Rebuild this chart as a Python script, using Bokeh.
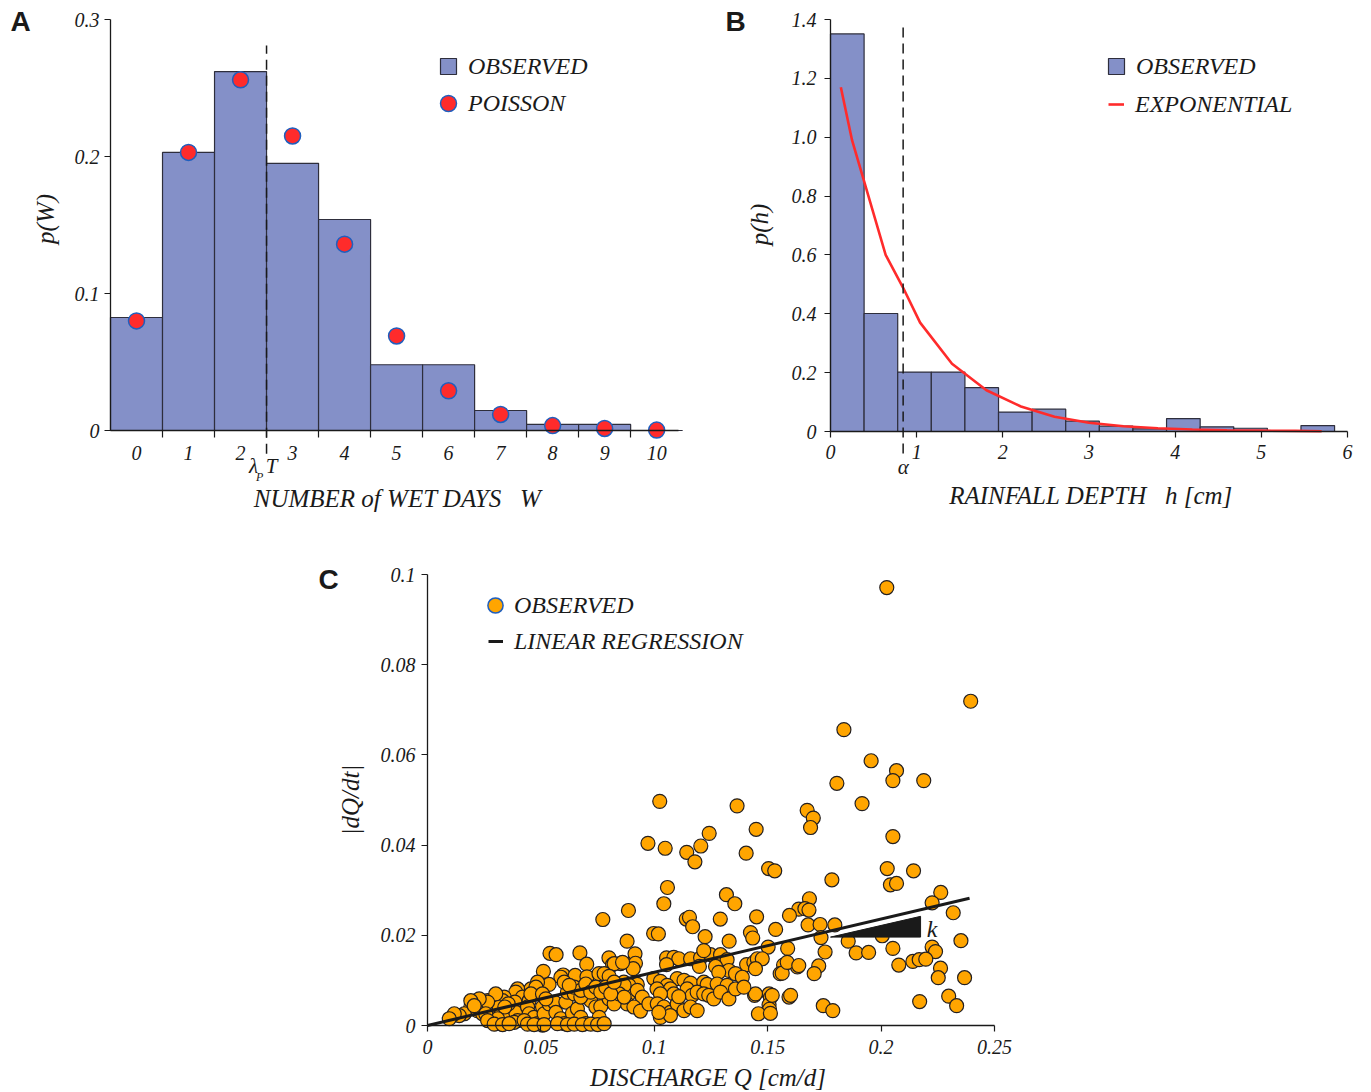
import math
from bokeh.plotting import figure
from bokeh.models import (Range1d, FixedTicker, CustomJSTickFormatter, Label,
                          Legend, LegendItem, Spacer)
from bokeh.layouts import column, row
from bokeh.embed import file_html
from bokeh.resources import INLINE

NAN = float("nan")

# ---------------- data ----------------
# Panel A : number of wet days
wet_days = list(range(11))
obs_wet = [0.0825, 0.203, 0.262, 0.195, 0.154, 0.048, 0.048, 0.0146, 0.0044, 0.0044, 0.0]
poisson_wet = [0.080, 0.203, 0.256, 0.215, 0.136, 0.069, 0.029, 0.0117, 0.0036, 0.0015, 0.0003]
lambda_T = 2.5

# Panel B : rainfall depth
depth_edges = [0.0, 0.39, 0.78, 1.17, 1.56, 1.95, 2.34, 2.73, 3.12, 3.51, 3.90, 4.29, 4.68, 5.07, 5.46, 5.85]
obs_depth = [1.351, 0.401, 0.202, 0.202, 0.149, 0.066, 0.076, 0.035, 0.018, 0.009, 0.044, 0.016, 0.011, 0.0, 0.020]
exp_h = [0.12, 0.25, 0.37, 0.64, 0.84, 1.04, 1.41, 1.81, 2.21, 2.60, 3.00, 3.40, 3.80, 4.20, 4.60, 5.00, 5.40, 5.70]
exp_p = [1.17, 0.99, 0.87, 0.60, 0.49, 0.37, 0.23, 0.14, 0.085, 0.05, 0.03, 0.018, 0.011, 0.007, 0.004, 0.003, 0.002, 0.001]
alpha_h = 0.843

# Panel C : recession
discharge = [
    0.2025, 0.2395, 0.1836, 0.1956, 0.2068, 0.2052, 0.2188, 0.1805, 0.1916, 0.1024,
    0.1365, 0.1674, 0.1701, 0.1689, 0.1449, 0.2052, 0.1242, 0.0972, 0.1048, 0.1205,
    0.1143, 0.1405, 0.1179, 0.1504, 0.1531, 0.2027, 0.2143, 0.1783, 0.2041, 0.2068,
    0.1058, 0.1318, 0.1355, 0.1042, 0.1684, 0.2263, 0.0886, 0.2225, 0.2318, 0.1637,
    0.1664, 0.1682, 0.1451, 0.1596, 0.0773, 0.1291, 0.1141, 0.1155, 0.1169, 0.1535,
    0.1678, 0.1731, 0.1796, 0.0997, 0.1018, 0.1224, 0.1424, 0.1434, 0.0880, 0.1330,
    0.1735, 0.1855, 0.2352, 0.2005, 0.1588, 0.1753, 0.1890, 0.1945, 0.2052, 0.2225,
    0.2240, 0.1502, 0.2140, 0.2168, 0.2197, 0.2078, 0.1725, 0.1631, 0.1570, 0.2262,
    0.2252, 0.2368, 0.1705, 0.1555, 0.1594, 0.1506, 0.1512, 0.1506, 0.1508, 0.1459,
    0.1442, 0.1745, 0.1787, 0.2170, 0.2298, 0.2333, 0.0540, 0.0567, 0.0672, 0.0702,
    0.0511, 0.0598, 0.0651, 0.0703, 0.0756, 0.0800, 0.0816, 0.0908, 0.0915,
    0.1054, 0.1086, 0.1108, 0.1160, 0.1204, 0.1248, 0.1292, 0.1218, 0.1321, 0.1199,
    0.1270, 0.1054, 0.0917, 0.0907, 0.0851, 0.1407, 0.1439, 0.1454, 0.1476, 0.1446,
    0.1564, 0.1586, 0.1637, 0.1329, 0.1358, 0.1388, 0.1284, 0.0866, 0.0925, 0.0888,
    0.0998, 0.1027, 0.1101, 0.1131, 0.1160, 0.1218, 0.1233, 0.1057, 0.1071, 0.1086,
    0.1012, 0.1027, 0.1277, 0.1321, 0.1145, 0.1167, 0.1189, 0.1218, 0.1240, 0.1262,
    0.1292, 0.1329, 0.1446, 0.1520, 0.1512, 0.1601, 0.1358, 0.1395, 0.0851, 0.0888,
    0.0925, 0.0947, 0.0880, 0.0910, 0.0939, 0.0976, 0.1013, 0.1042, 0.1071, 0.1101,
    0.1131, 0.1160, 0.1189, 0.1027, 0.1071, 0.1020, 0.1108,
    0.0823, 0.0860, 0.0588, 0.0779, 0.0801, 0.0867, 0.0456, 0.0536, 0.0485, 0.0478,
    0.0397, 0.0389, 0.0419, 0.0448, 0.0338, 0.0331, 0.0287, 0.0265, 0.0316, 0.0385,
    0.0191, 0.0220, 0.0243, 0.0162, 0.0140, 0.0118, 0.0096, 0.0272, 0.0287, 0.0301,
    0.0323, 0.0353, 0.0389, 0.0397, 0.0382, 0.0441, 0.0448, 0.0470, 0.0485, 0.0507,
    0.0507, 0.0514, 0.0536, 0.0559, 0.0566, 0.0588, 0.0603, 0.0610, 0.0639, 0.0661,
    0.0676, 0.0698, 0.0720, 0.0742, 0.0764, 0.0757, 0.0801, 0.0823, 0.0845, 0.0867,
    0.0617, 0.0647, 0.0676, 0.0647, 0.0676, 0.0698, 0.0720, 0.0742, 0.0764, 0.0786,
    0.0808, 0.0823, 0.0603, 0.0625, 0.0456, 0.0507, 0.0522, 0.0356, 0.0341, 0.0301,
    0.0265, 0.0228, 0.0191, 0.0206, 0.0309, 0.0257,
    0.0265, 0.0294, 0.0331, 0.0360, 0.0426, 0.0441, 0.0470, 0.0514, 0.0573, 0.0617,
    0.0647, 0.0683, 0.0720, 0.0750, 0.0779,
]
recession = [
    0.0971, 0.0719, 0.0656, 0.0587, 0.0565, 0.0543, 0.0543, 0.0537, 0.0492, 0.0497,
    0.0487, 0.0477, 0.0460, 0.0439, 0.0435, 0.0419, 0.0426, 0.0404, 0.0393, 0.0398,
    0.0384, 0.0382, 0.0363, 0.0348, 0.0343, 0.0348, 0.0343, 0.0323, 0.0312, 0.0315,
    0.0306, 0.0290, 0.0270, 0.0270, 0.0281, 0.0295, 0.0255, 0.0272, 0.0250, 0.0258,
    0.0259, 0.0256, 0.0241, 0.0244, 0.0235, 0.0236, 0.0236, 0.0240, 0.0219, 0.0213,
    0.0223, 0.0224, 0.0223, 0.0204, 0.0203, 0.0197, 0.0206, 0.0194, 0.0187, 0.0187,
    0.0195, 0.0187, 0.0188, 0.0199, 0.0171, 0.0163, 0.0161, 0.0162, 0.0171, 0.0174,
    0.0164, 0.0174, 0.0142, 0.0146, 0.0147, 0.0134, 0.0132, 0.0130, 0.0134, 0.0127,
    0.0106, 0.0106, 0.0115, 0.0115, 0.0063, 0.0070, 0.0062, 0.0046, 0.0036, 0.0026,
    0.0067, 0.0044, 0.0033, 0.0053, 0.0065, 0.0044, 0.0160, 0.0157, 0.0161, 0.0136,
    0.0120, 0.0112, 0.0111, 0.0108, 0.0115, 0.0150, 0.0135, 0.0141, 0.0159,
    0.0150, 0.0151, 0.0148, 0.0148, 0.0150, 0.0157, 0.0157, 0.0166, 0.0146, 0.0131,
    0.0131, 0.0135, 0.0138, 0.0126, 0.0137, 0.0135, 0.0140, 0.0148, 0.0148, 0.0126,
    0.0116, 0.0140, 0.0133, 0.0122, 0.0115, 0.0107, 0.0118, 0.0096, 0.0091, 0.0089,
    0.0104, 0.0098, 0.0104, 0.0100, 0.0094, 0.0096, 0.0091, 0.0089, 0.0081, 0.0070,
    0.0081, 0.0070, 0.0092, 0.0089, 0.0081, 0.0067, 0.0074, 0.0070, 0.0067, 0.0059,
    0.0074, 0.0059, 0.0070, 0.0067, 0.0027, 0.0067, 0.0081, 0.0085, 0.0070, 0.0070,
    0.0078, 0.0063, 0.0048, 0.0041, 0.0032, 0.0048, 0.0048, 0.0041, 0.0029, 0.0048,
    0.0033, 0.0041, 0.0033, 0.0018, 0.0022, 0.0029, 0.0064,
    0.0137, 0.0140, 0.0107, 0.0115, 0.0109, 0.0089, 0.0081, 0.0091, 0.0096, 0.0085,
    0.0081, 0.0074, 0.0063, 0.0055, 0.0063, 0.0055, 0.0055, 0.0055, 0.0041, 0.0052,
    0.0041, 0.0033, 0.0026, 0.0026, 0.0022, 0.0026, 0.0015, 0.0022, 0.0015, 0.0004,
    0.0004, 0.0018, 0.0029, 0.0011, 0.0007, 0.0041, 0.0026, 0.0018, 0.0004, 0.0001,
    0.0041, 0.0026, 0.0048, 0.0052, 0.0029, 0.0015, 0.0004, 0.0052, 0.0027, 0.0037,
    0.0018, 0.0004, 0.0055, 0.0041, 0.0042, 0.0018, 0.0059, 0.0048, 0.0070, 0.0063,
    0.0074, 0.0070, 0.0063, 0.0085, 0.0078, 0.0092, 0.0074, 0.0085, 0.0074, 0.0085,
    0.0070, 0.0096, 0.0096, 0.0089, 0.0070, 0.0070, 0.0059, 0.0048, 0.0041, 0.0070,
    0.0052, 0.0059, 0.0055, 0.0044, 0.0015, 0.0026,
    0.0011, 0.0003, 0.0002, 0.0004, 0.0011, 0.0003, 0.0002, 0.0002, 0.0004, 0.0002,
    0.0003, 0.0002, 0.0003, 0.0002, 0.0004,
]
reg_q = [0.0, 0.239]
reg_dq = [0.0, 0.0282]
k_q = [0.1777, 0.2174, 0.2174]
k_dq = [0.0196, 0.0196, 0.0242]

# ---------------- style ----------------
SERIF = "Liberation Serif"
SANS = "Liberation Sans"
INK = "#1a1a1a"
BAR_FILL = "#8490c8"
BAR_LINE = "#2e2e3c"
RED = "#ff2b2b"
BLUE = "#1f5fbf"
ORANGE = "#ffa500"
GAP = "\u00a0\u00a0 "


def xr(W, a, pa, b, pb):
    s = (pb - pa) / (b - a)
    return Range1d(a - pa / s, a + (W - pa) / s)


def yr(H, a, pa, b, pb):
    s = (pa - pb) / (b - a)
    return Range1d(a - (H - pa) / s, b + pb / s)


def make_fig(W, H, xrange, yrange, x_axis_at, y_axis_at, xbounds, ybounds):
    p = figure(width=W, height=H, x_range=xrange, y_range=yrange,
               toolbar_location=None, output_backend="svg", min_border=0)
    p.outline_line_color = None
    p.xgrid.visible = False
    p.ygrid.visible = False
    p.background_fill_color = "white"
    p.border_fill_color = "white"
    p.xaxis.fixed_location = x_axis_at
    p.yaxis.fixed_location = y_axis_at
    p.xaxis.bounds = xbounds
    p.yaxis.bounds = ybounds
    for ax in (p.xaxis[0], p.yaxis[0]):
        ax.axis_line_color = INK
        ax.axis_line_width = 1.3
        ax.major_tick_line_color = INK
        ax.major_tick_line_width = 1.2
        ax.major_tick_in = 0
        ax.major_tick_out = 6
        ax.minor_tick_line_color = None
        ax.major_label_text_font = SERIF
        ax.major_label_text_font_style = "italic"
        ax.major_label_text_font_size = "20px"
        ax.major_label_text_color = INK
        ax.major_label_standoff = 5
    return p


def fmt():
    return CustomJSTickFormatter(
        code="return tick == 0 ? '0' : String(parseFloat(tick.toFixed(3)));")


def text(p, x, y, s, dx=0, dy=0, size="25px", font=SERIF, style="italic", angle=0.0,
         align="center", baseline="middle"):
    p.add_layout(Label(x=x, y=y, x_offset=dx, y_offset=dy, text=s, text_font=font,
                       text_font_style=style, text_font_size=size, text_color=INK,
                       text_align=align, text_baseline=baseline, angle=angle))


def legend(p, renderer, label, vx, vy, gw, gh, standoff):
    lg = Legend(items=[LegendItem(label=label, renderers=[renderer])], location=(vx, vy),
                border_line_color=None, background_fill_alpha=0, padding=0, margin=0,
                spacing=0, glyph_width=gw, glyph_height=gh, label_height=gh,
                label_standoff=standoff, label_text_font=SERIF, label_text_font_style="italic",
                label_text_font_size="24px", label_text_color=INK)
    p.add_layout(lg)


# ---------------- panel A ----------------
WA, HA = 722, 531
pA = make_fig(WA, HA, xr(WA, -0.5, 110, 10.42, 678), yr(HA, 0, 430, 0.3, 19),
              0, -0.5, (-0.5, 10.42), (0, 0.3))
pA.xaxis.ticker = FixedTicker(ticks=wet_days, minor_ticks=[w + 0.5 for w in wet_days[:-1]])
pA.xaxis.major_tick_out = 0
pA.xaxis.minor_tick_line_color = INK
pA.xaxis.minor_tick_line_width = 1.2
pA.xaxis.minor_tick_in = 0
pA.xaxis.minor_tick_out = 7
pA.xaxis.major_label_standoff = 8
pA.yaxis.ticker = FixedTicker(ticks=[0, 0.1, 0.2, 0.3])
pA.yaxis.formatter = fmt()

barsA = pA.quad(left=[w - 0.5 for w in wet_days], right=[w + 0.5 for w in wet_days],
                bottom=0, top=obs_wet, fill_color=BAR_FILL, line_color=BAR_LINE, line_width=1.2)
pA.segment(x0=[lambda_T], y0=[-0.017], x1=[lambda_T], y1=[0.281],
           line_dash="10 6", line_width=1.5, line_color=INK)
dotsA = pA.scatter(wet_days, poisson_wet, size=16, fill_color=RED, line_color=BLUE, line_width=1.5)
swatchA = pA.scatter([NAN], [NAN], marker="square", size=16, fill_color=BAR_FILL,
                     line_color=BAR_LINE, line_width=1.2)
legend(pA, swatchA, "OBSERVED", 428, HA - 86, 40, 40, 0)
legend(pA, dotsA, "POISSON", 428, HA - 123, 40, 40, 0)

text(pA, lambda_T, 0, "λ", dx=-13, dy=-35, size="21px")
text(pA, lambda_T, 0, "P", dx=-7, dy=-46, size="12px")
text(pA, lambda_T, 0, "T", dx=5, dy=-35, size="21px")
text(pA, 4.96, 0, "NUMBER of WET DAYS" + GAP + "W", dx=3, dy=-68)
text(pA, -0.5, 0.15, "p(W)", dx=-65, dy=6, angle=math.pi / 2)
text(pA, -0.5, 0.3, "A", dx=-90, dy=-2, size="28px", font=SANS, style="bold")

# ---------------- panel B ----------------
WB, HB = 644, 531
pB = make_fig(WB, HB, xr(WB, 0, 108, 6, 625), yr(HB, 0, 431, 1.4, 19),
              0, 0, (0, 6), (0, 1.4))
pB.xaxis.ticker = FixedTicker(ticks=[0, 1, 2, 3, 4, 5, 6])
pB.xaxis.major_label_standoff = 7
pB.yaxis.ticker = FixedTicker(ticks=[0, 0.2, 0.4, 0.6, 0.8, 1.0, 1.2, 1.4])
pB.yaxis.formatter = CustomJSTickFormatter(code="return tick == 0 ? '0' : tick.toFixed(1);")
pB.yaxis.major_label_standoff = 8

barsB = pB.quad(left=depth_edges[:-1], right=depth_edges[1:], bottom=0, top=obs_depth,
                fill_color=BAR_FILL, line_color=BAR_LINE, line_width=1.2)
expB = pB.line(exp_h, exp_p, line_color=RED, line_width=2.6)
pB.segment(x0=[alpha_h], y0=[-0.075], x1=[alpha_h], y1=[1.374],
           line_dash="10 6", line_width=1.5, line_color=INK)
swatchB = pB.scatter([NAN], [NAN], marker="square", size=16, fill_color=BAR_FILL,
                     line_color=BAR_LINE, line_width=1.2)
legend(pB, swatchB, "OBSERVED", 374, HB - 86, 40, 40, 0)
legend(pB, expB, "EXPONENTIAL", 386, HB - 124, 16, 40, 11)

text(pB, alpha_h, 0, "α", dy=-35, size="21px")
text(pB, 3.0, 0, "RAINFALL DEPTH" + GAP + "h [cm]", dx=2, dy=-64)
text(pB, 0, 0.7, "p(h)", dx=-71, dy=1, angle=math.pi / 2)
text(pB, 0, 1.4, "B", dx=-95, dy=-2, size="28px", font=SANS, style="bold")

# ---------------- panel C ----------------
WC, HC = 740, 559
pC = make_fig(WC, HC, xr(WC, 0, 137, 0.25, 704), yr(HC, 0, 494, 0.1, 43),
              0, 0, (0, 0.25), (0, 0.1))
pC.xaxis.ticker = FixedTicker(ticks=[0, 0.05, 0.1, 0.15, 0.2, 0.25])
pC.yaxis.ticker = FixedTicker(ticks=[0, 0.02, 0.04, 0.06, 0.08, 0.1])
pC.xaxis.formatter = fmt()
pC.yaxis.formatter = fmt()
pC.xaxis.major_label_standoff = 8
pC.yaxis.major_label_standoff = 6

pC.scatter(discharge, recession, size=14, fill_color=ORANGE, line_color="#231f20", line_width=1.2)
regC = pC.line(reg_q, reg_dq, line_color=INK, line_width=3)
pC.patch(k_q, k_dq, fill_color=INK, line_color=INK, line_width=1)
swatchC = pC.scatter([NAN], [NAN], size=15, fill_color=ORANGE, line_color=BLUE, line_width=1.5)
legend(pC, swatchC, "OBSERVED", 186, HC - 93, 38, 38, 0)
legend(pC, regC, "LINEAR REGRESSION", 198, HC - 129, 15, 38, 11)

text(pC, 0.2225, 0.0214, "k", size="24px")
text(pC, 0.125, 0, "DISCHARGE Q [cm/d]", dx=-3, dy=-52)
text(pC, 0, 0.05, "|dQ/dt|", dx=-77, angle=math.pi / 2)
text(pC, 0, 0.1, "C", dx=-99, dy=-5, size="28px", font=SANS, style="bold")

layout = column(row(pA, pB), row(Spacer(width=290, height=HC), pC))
open("out.html", "w").write(file_html(layout, INLINE))
